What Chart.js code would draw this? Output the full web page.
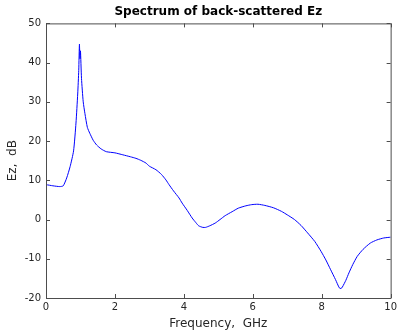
<!DOCTYPE html>
<html>
<head>
<meta charset="utf-8">
<script src="https://cdn.jsdelivr.net/npm/chart.js@4/dist/chart.umd.min.js"></script>
<style>
  html, body { margin: 0; padding: 0; background: #fff; }
  #wrap { width: 400px; height: 331px; }
</style>
</head>
<body>
<div id="wrap"><canvas id="chart"></canvas></div>
<script>
const freqGHz = [0, 0.2, 0.4, 0.5, 0.6, 0.7, 0.8, 0.87, 0.92, 0.95, 0.97, 0.985, 1.0, 1.03, 1.08, 1.13,
  1.2, 1.27, 1.37, 1.47, 1.6, 1.75, 2.0, 2.23, 2.45, 2.61, 2.75, 2.9, 3.0, 3.19, 3.35, 3.48,
  3.57, 3.7, 3.86, 3.95, 4.1, 4.24, 4.35, 4.43, 4.55, 4.63, 4.75, 4.91, 5.05, 5.2, 5.4, 5.58,
  5.8, 5.97, 6.15, 6.35, 6.6, 6.83, 7.0, 7.21, 7.4, 7.59, 7.8, 7.98, 8.12, 8.26, 8.4, 8.51,
  8.56, 8.6, 8.7, 8.79, 8.9, 9.03, 9.2, 9.41, 9.6, 9.8, 10];
const ezDb = [8.9, 8.6, 8.4, 8.6, 10.6, 13.5, 17.5, 24.6, 32, 38, 44.7, 41, 43, 36, 30, 27,
  23.5, 22, 20.2, 19, 18, 17.3, 17, 16.5, 16, 15.6, 15.1, 14.4, 13.6, 12.7, 11.5, 10.1,
  8.9, 7.3, 5.5, 4.2, 2.3, 0.4, -0.8, -1.6, -2.0, -2.0, -1.6, -0.9, 0, 1.0, 2.0, 2.9,
  3.5, 3.8, 3.9, 3.6, 3.0, 2.1, 1.2, 0, -1.5, -3.4, -5.6, -8.1, -10.3, -12.8, -15.3, -17.4,
  -17.6, -17.2, -15.5, -13.6, -11.5, -9.4, -7.6, -6.0, -5.2, -4.7, -4.5];
const xTicks = [0, 2, 4, 6, 8, 10];
const yTicks = [-20, -10, 0, 10, 20, 30, 40, 50];

const axisColor = '#4d4d4d';
const textColor = '#262626';
const fontFamily = '"DejaVu Sans", sans-serif';

// MATLAB-style box with ticks pointing inward on all four sides
const boxPlugin = {
  id: 'box',
  afterDraw(chart) {
    const { ctx, chartArea: a, scales } = chart;
    const len = 4;
    ctx.save();
    ctx.strokeStyle = axisColor;
    ctx.lineWidth = 1;
    ctx.beginPath();
    ctx.rect(a.left + 0.5, a.top + 0.5, a.right - a.left, a.bottom - a.top);
    xTicks.forEach(v => {
      const px = Math.round(scales.x.getPixelForValue(v)) + 0.5;
      ctx.moveTo(px, a.bottom); ctx.lineTo(px, a.bottom - len);
      ctx.moveTo(px, a.top); ctx.lineTo(px, a.top + len);
    });
    yTicks.forEach(v => {
      const py = Math.round(scales.y.getPixelForValue(v)) + 0.5;
      ctx.moveTo(a.left, py); ctx.lineTo(a.left + len, py);
      ctx.moveTo(a.right, py); ctx.lineTo(a.right - len, py);
    });
    ctx.stroke();
    ctx.restore();
  }
};

new Chart(document.getElementById('chart'), {
  type: 'line',
  data: {
    datasets: [{
      data: freqGHz.map((f, i) => ({ x: f, y: ezDb[i] })),
      borderColor: '#0000ff',
      borderWidth: 1,
      pointRadius: 0,
      tension: 0.2,
      fill: false,
    }],
  },
  options: {
    responsive: true,
    maintainAspectRatio: false,
    animation: false,
    layout: { padding: { right: 6, top: 0, left: 0, bottom: 0 } },
    plugins: {
      legend: { display: false },
      tooltip: { enabled: false },
      title: {
        display: true,
        text: 'Spectrum of back-scattered Ez',
        fullSize: false,
        color: '#000',
        font: { family: fontFamily, size: 12, weight: 'bold' },
        padding: { top: 5, bottom: 4 },
      },
    },
    scales: {
      x: {
        type: 'linear',
        min: 0, max: 10,
        afterBuildTicks: s => { s.ticks = xTicks.map(v => ({ value: v })); },
        afterFit: s => { s.height = 33; },
        grid: { display: false, drawTicks: false },
        border: { display: false },
        ticks: { color: textColor, padding: 3, maxRotation: 0, font: { family: fontFamily, size: 10 } },
        title: {
          display: true, text: 'Frequency,  GHz', color: textColor,
          font: { family: fontFamily, size: 12 }, padding: { top: 1, bottom: 0 },
        },
      },
      y: {
        min: -20, max: 50,
        afterBuildTicks: s => { s.ticks = yTicks.map(v => ({ value: v })); },
        afterFit: s => { s.width = 46; },
        grid: { display: false, drawTicks: false },
        border: { display: false },
        ticks: { color: textColor, padding: 5, font: { family: fontFamily, size: 10 } },
        title: {
          display: true, text: 'Ez,  dB', color: textColor,
          font: { family: fontFamily, size: 12 }, padding: { top: 6, bottom: 0 },
        },
      },
    },
  },
  plugins: [boxPlugin],
});
</script>
</body>
</html>
